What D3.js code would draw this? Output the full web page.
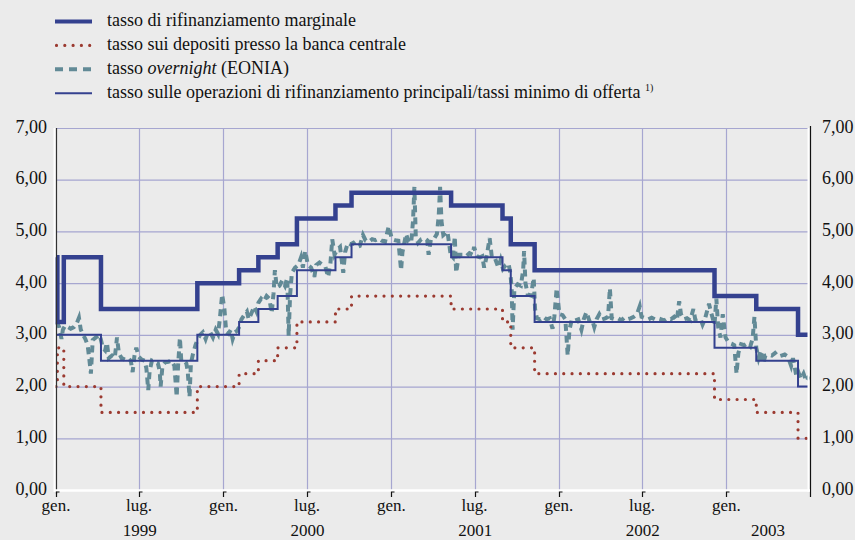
<!DOCTYPE html>
<html>
<head>
<meta charset="utf-8">
<script src="https://cdn.jsdelivr.net/npm/d3@7"></script>
<style>
  body { margin: 0; background: #ebebeb; }
  svg { display: block; }
  text { font-family: "Liberation Serif", "DejaVu Serif", serif; }
</style>
</head>
<body>
<svg id="chart" width="855" height="540"></svg>
<script>
// tassi BCE 1999-2003
const legendLabels = [
  "tasso di rifinanziamento marginale",
  "tasso sui depositi presso la banca centrale",
  "tasso overnight (EONIA)",
  "tasso sulle operazioni di rifinanziamento principali/tassi minimo di offerta"
]
const yTicks = [0, 1, 2, 3, 4, 5, 6, 7]
const monthLabels = ["gen.", "lug."]
const yearLabels = ["1999", "2000", "2001", "2002", "2003"]

// [data, valore] - cambiamenti di livello
const marginalRate = [
  ["1999-01-01", 4.50], ["1999-01-04", 3.25], ["1999-01-18", 4.50], ["1999-04-09", 3.50],
  ["1999-11-05", 4.00], ["2000-02-04", 4.25], ["2000-03-17", 4.50], ["2000-04-28", 4.75],
  ["2000-06-09", 5.25], ["2000-09-01", 5.50], ["2000-10-06", 5.75], ["2001-05-11", 5.50],
  ["2001-08-31", 5.25], ["2001-09-18", 4.75], ["2001-11-09", 4.25], ["2002-12-06", 3.75],
  ["2003-03-07", 3.50], ["2003-06-06", 3.00], ["2003-06-30", 3.00]
]
const depositRate = [
  ["1999-01-01", 2.00], ["1999-01-04", 2.75], ["1999-01-18", 2.00], ["1999-04-09", 1.50],
  ["1999-11-05", 2.00], ["2000-02-04", 2.25], ["2000-03-17", 2.50], ["2000-04-28", 2.75],
  ["2000-06-09", 3.25], ["2000-09-01", 3.50], ["2000-10-06", 3.75], ["2001-05-11", 3.50],
  ["2001-08-31", 3.25], ["2001-09-18", 2.75], ["2001-11-09", 2.25], ["2002-12-06", 1.75],
  ["2003-03-07", 1.50], ["2003-06-06", 1.00], ["2003-06-30", 1.00]
]
const mainRefiRate = [
  ["1999-01-01", 3.00], ["1999-04-09", 2.50], ["1999-11-05", 3.00], ["2000-02-04", 3.25],
  ["2000-03-17", 3.50], ["2000-04-28", 3.75], ["2000-06-09", 4.25], ["2000-09-01", 4.50],
  ["2000-10-06", 4.75], ["2001-05-11", 4.50], ["2001-08-31", 4.25], ["2001-09-18", 3.75],
  ["2001-11-09", 3.25], ["2002-12-06", 2.75], ["2003-03-07", 2.50], ["2003-06-06", 2.00],
  ["2003-06-30", 2.00]
]
const eonia = [
  ["1999-01-01", 3.25], ["1999-01-04", 3.22], ["1999-01-08", 3.15], ["1999-01-13", 2.92], ["1999-01-16", 3.10],
  ["1999-01-21", 3.18], ["1999-01-27", 3.15], ["1999-02-02", 3.12], ["1999-02-09", 3.15], ["1999-02-15", 3.22],
  ["1999-02-20", 3.33], ["1999-02-24", 3.10], ["1999-03-01", 3.00], ["1999-03-06", 2.92], ["1999-03-11", 2.80],
  ["1999-03-15", 2.50], ["1999-03-18", 2.25], ["1999-03-22", 2.90], ["1999-03-29", 2.95], ["1999-04-06", 3.00],
  ["1999-04-09", 2.90], ["1999-04-13", 2.75], ["1999-04-18", 2.70], ["1999-04-22", 2.85], ["1999-04-26", 2.55],
  ["1999-05-03", 2.60], ["1999-05-09", 2.55], ["1999-05-14", 2.95], ["1999-05-18", 2.65], ["1999-05-24", 2.55],
  ["1999-05-31", 2.52], ["1999-06-07", 2.55], ["1999-06-13", 2.50], ["1999-06-17", 2.28], ["1999-06-21", 2.60],
  ["1999-06-25", 2.75], ["1999-06-30", 2.58], ["1999-07-07", 2.52], ["1999-07-13", 2.50], ["1999-07-17", 2.35],
  ["1999-07-21", 1.93], ["1999-07-24", 2.30], ["1999-07-29", 2.50], ["1999-08-05", 2.47], ["1999-08-11", 2.45],
  ["1999-08-15", 2.30], ["1999-08-17", 2.00], ["1999-08-21", 2.40], ["1999-08-27", 2.47], ["1999-09-03", 2.48],
  ["1999-09-10", 2.50], ["1999-09-16", 2.40], ["1999-09-21", 1.80], ["1999-09-24", 2.40], ["1999-09-28", 2.94],
  ["1999-10-01", 2.50], ["1999-10-07", 2.50], ["1999-10-12", 2.45], ["1999-10-15", 2.30], ["1999-10-19", 1.80],
  ["1999-10-22", 2.45], ["1999-10-27", 2.65], ["1999-11-01", 2.80], ["1999-11-05", 2.90], ["1999-11-11", 3.00],
  ["1999-11-17", 3.05], ["1999-11-23", 2.92], ["1999-11-28", 3.05], ["1999-12-03", 3.05], ["1999-12-09", 2.95],
  ["1999-12-15", 3.10], ["1999-12-20", 3.02], ["1999-12-24", 3.30], ["1999-12-29", 3.78], ["2000-01-03", 3.50],
  ["2000-01-07", 3.05], ["2000-01-12", 3.02], ["2000-01-17", 3.10], ["2000-01-21", 2.92], ["2000-01-26", 3.05],
  ["2000-01-31", 3.08], ["2000-02-04", 3.15], ["2000-02-09", 3.30], ["2000-02-15", 3.38], ["2000-02-21", 3.45],
  ["2000-02-25", 3.30], ["2000-03-01", 3.40], ["2000-03-08", 3.55], ["2000-03-13", 3.45], ["2000-03-17", 3.62],
  ["2000-03-23", 3.70], ["2000-03-29", 3.65], ["2000-04-04", 3.75], ["2000-04-10", 3.70], ["2000-04-15", 3.42],
  ["2000-04-19", 3.80], ["2000-04-22", 4.25], ["2000-04-26", 3.92], ["2000-05-02", 3.95], ["2000-05-08", 4.05],
  ["2000-05-14", 3.95], ["2000-05-19", 4.10], ["2000-05-22", 2.98], ["2000-05-25", 3.75], ["2000-05-29", 4.20],
  ["2000-06-05", 4.30], ["2000-06-12", 4.35], ["2000-06-18", 4.50], ["2000-06-22", 4.30], ["2000-06-27", 4.62],
  ["2000-07-03", 4.35], ["2000-07-10", 4.30], ["2000-07-17", 4.12], ["2000-07-21", 4.35], ["2000-07-28", 4.40],
  ["2000-08-04", 4.35], ["2000-08-10", 4.32], ["2000-08-16", 4.12], ["2000-08-21", 4.38], ["2000-08-25", 4.85],
  ["2000-08-30", 4.55], ["2000-09-05", 4.65], ["2000-09-11", 4.70], ["2000-09-18", 4.20], ["2000-09-22", 4.60],
  ["2000-09-28", 4.78], ["2000-10-04", 4.75], ["2000-10-10", 4.78], ["2000-10-17", 4.70], ["2000-10-24", 4.72],
  ["2000-10-31", 4.93], ["2000-11-06", 4.82], ["2000-11-13", 4.80], ["2000-11-20", 4.85], ["2000-11-27", 4.83],
  ["2000-12-04", 4.86], ["2000-12-11", 4.82], ["2000-12-18", 4.80], ["2000-12-26", 5.10], ["2001-01-02", 4.85],
  ["2001-01-09", 4.83], ["2001-01-16", 4.82], ["2001-01-22", 4.25], ["2001-01-25", 4.60], ["2001-02-02", 4.95],
  ["2001-02-07", 4.80], ["2001-02-13", 4.78], ["2001-02-17", 5.20], ["2001-02-20", 5.86], ["2001-02-23", 4.90],
  ["2001-02-28", 4.78], ["2001-03-07", 4.85], ["2001-03-14", 4.87], ["2001-03-20", 4.83], ["2001-03-23", 4.55],
  ["2001-03-28", 4.85], ["2001-04-04", 4.86], ["2001-04-10", 4.95], ["2001-04-14", 5.30], ["2001-04-17", 5.86],
  ["2001-04-20", 5.20], ["2001-04-24", 4.93], ["2001-05-03", 5.00], ["2001-05-10", 4.55], ["2001-05-15", 4.50],
  ["2001-05-19", 4.90], ["2001-05-22", 4.20], ["2001-05-28", 4.55], ["2001-06-05", 4.55], ["2001-06-13", 4.52],
  ["2001-06-20", 4.58], ["2001-06-27", 4.55], ["2001-06-30", 4.70], ["2001-07-06", 4.52], ["2001-07-13", 4.50],
  ["2001-07-18", 4.52], ["2001-07-22", 4.30], ["2001-07-27", 4.50], ["2001-08-03", 4.87], ["2001-08-08", 4.48],
  ["2001-08-15", 4.47], ["2001-08-22", 4.30], ["2001-08-27", 4.45], ["2001-09-01", 4.28], ["2001-09-07", 4.35],
  ["2001-09-13", 4.38], ["2001-09-17", 4.20], ["2001-09-20", 3.90], ["2001-09-22", 3.10], ["2001-09-26", 3.90],
  ["2001-10-03", 3.98], ["2001-10-10", 3.95], ["2001-10-15", 4.25], ["2001-10-17", 4.62], ["2001-10-20", 4.00],
  ["2001-10-25", 3.78], ["2001-11-01", 3.76], ["2001-11-07", 4.10], ["2001-11-10", 3.50], ["2001-11-14", 3.32],
  ["2001-11-21", 3.30], ["2001-11-28", 3.35], ["2001-12-05", 3.30], ["2001-12-12", 3.32], ["2001-12-18", 3.12],
  ["2001-12-22", 3.35], ["2001-12-27", 3.90], ["2002-01-02", 3.40], ["2002-01-09", 3.38], ["2002-01-15", 3.30],
  ["2002-01-20", 2.60], ["2002-01-24", 3.10], ["2002-01-29", 3.30], ["2002-02-05", 3.28], ["2002-02-12", 3.30],
  ["2002-02-19", 3.10], ["2002-02-24", 3.30], ["2002-03-02", 3.44], ["2002-03-08", 3.28], ["2002-03-14", 3.30],
  ["2002-03-19", 3.15], ["2002-03-24", 3.30], ["2002-03-30", 3.40], ["2002-04-05", 3.30], ["2002-04-12", 3.32],
  ["2002-04-18", 3.35], ["2002-04-22", 3.90], ["2002-04-26", 3.32], ["2002-05-03", 3.30], ["2002-05-10", 3.32],
  ["2002-05-17", 3.28], ["2002-05-23", 3.33], ["2002-05-30", 3.30], ["2002-06-06", 3.32], ["2002-06-13", 3.35],
  ["2002-06-20", 3.40], ["2002-06-26", 3.55], ["2002-06-30", 3.35], ["2002-07-08", 3.32], ["2002-07-15", 3.30],
  ["2002-07-22", 3.33], ["2002-07-29", 3.30], ["2002-08-05", 3.32], ["2002-08-12", 3.30], ["2002-08-19", 3.28],
  ["2002-08-26", 3.32], ["2002-09-02", 3.30], ["2002-09-09", 3.35], ["2002-09-15", 3.28], ["2002-09-20", 3.65],
  ["2002-09-24", 3.40], ["2002-09-30", 3.30], ["2002-10-07", 3.32], ["2002-10-14", 3.28], ["2002-10-21", 3.50],
  ["2002-10-25", 3.30], ["2002-11-01", 3.32], ["2002-11-06", 3.30], ["2002-11-10", 3.20], ["2002-11-15", 3.30],
  ["2002-11-24", 3.60], ["2002-11-28", 3.45], ["2002-12-06", 3.20], ["2002-12-10", 3.70], ["2002-12-14", 3.15],
  ["2002-12-19", 2.95], ["2002-12-24", 3.40], ["2002-12-30", 2.95], ["2003-01-06", 2.85], ["2003-01-12", 2.83],
  ["2003-01-18", 2.80], ["2003-01-23", 2.25], ["2003-01-27", 2.65], ["2003-02-02", 2.82], ["2003-02-09", 2.80],
  ["2003-02-16", 2.84], ["2003-02-22", 2.78], ["2003-02-27", 2.92], ["2003-03-03", 3.35], ["2003-03-07", 2.75],
  ["2003-03-12", 2.55], ["2003-03-17", 2.70], ["2003-03-22", 2.45], ["2003-03-27", 2.60], ["2003-04-03", 2.62],
  ["2003-04-10", 2.60], ["2003-04-17", 2.65], ["2003-04-24", 2.58], ["2003-05-01", 2.60], ["2003-05-08", 2.62],
  ["2003-05-15", 2.58], ["2003-05-22", 2.40], ["2003-05-26", 2.55], ["2003-06-02", 2.22], ["2003-06-06", 2.30],
  ["2003-06-12", 2.15], ["2003-06-18", 2.25], ["2003-06-24", 2.10], ["2003-06-30", 2.20]
]

const BLUE = "#34418f"
const RED = "#9b3a30"
const TEAL = "#628a96"
const GRID = "#a6a6d0"
const FONT = "'Liberation Serif', 'DejaVu Serif', serif"

const parse = d3.timeParse("%Y-%m-%d")
const svg = d3.select("#chart")

const x = d3.scaleTime()
  .domain([parse("1999-01-01"), parse("2003-07-01")])
  .range([56, 809.5])
const y = d3.scaleLinear().domain([0, 7]).range([490, 128])

// griglia
const halfYears = d3.timeMonth.every(6).range(parse("1999-01-01"), parse("2003-07-01"))
svg.append("g").selectAll("line").data(yTicks.slice(1)).join("line")
  .attr("x1", 56).attr("x2", 809)
  .attr("y1", d => y(d) + 0.5).attr("y2", d => y(d) + 0.5)
  .attr("stroke", GRID).attr("stroke-width", 1.2)
svg.append("g").selectAll("line").data(halfYears.slice(1)).join("line")
  .attr("x1", d => Math.round(x(d)) + 0.5).attr("x2", d => Math.round(x(d)) + 0.5)
  .attr("y1", 128).attr("y2", 490)
  .attr("stroke", GRID).attr("stroke-width", 1.2)

// serie
const toXY = arr => arr.map(d => [x(parse(d[0])), y(d[1])])
const stepLine = d3.line().curve(d3.curveStepAfter)
const plainLine = d3.line()

svg.append("path").attr("d", plainLine(toXY(eonia)))
  .attr("fill", "none").attr("stroke", TEAL).attr("stroke-width", 4)
  .attr("stroke-dasharray", "7,5")
svg.append("path").attr("d", stepLine(toXY(depositRate)))
  .attr("fill", "none").attr("stroke", RED).attr("stroke-width", 3.2)
  .attr("stroke-linecap", "round").attr("stroke-dasharray", "0,8.3")
svg.append("path").attr("d", stepLine(toXY(mainRefiRate)))
  .attr("fill", "none").attr("stroke", BLUE).attr("stroke-width", 2)
svg.append("path").attr("d", stepLine(toXY(marginalRate)))
  .attr("fill", "none").attr("stroke", BLUE).attr("stroke-width", 4.5)

// assi
const axes = svg.append("g")
axes.append("line").attr("x1", 54.5).attr("x2", 54.5).attr("y1", 128).attr("y2", 492).attr("stroke", "#fff").attr("stroke-width", 2)
axes.append("line").attr("x1", 56.5).attr("x2", 56.5).attr("y1", 128).attr("y2", 494).attr("stroke", "#333").attr("stroke-width", 1.2)
axes.append("line").attr("x1", 808.5).attr("x2", 808.5).attr("y1", 128).attr("y2", 492).attr("stroke", "#fff").attr("stroke-width", 2)
axes.append("line").attr("x1", 810.5).attr("x2", 810.5).attr("y1", 126).attr("y2", 497).attr("stroke", "#111").attr("stroke-width", 1.2)
axes.append("line").attr("x1", 55).attr("x2", 810).attr("y1", 490.5).attr("y2", 490.5).attr("stroke", "#fff").attr("stroke-width", 2.5)
axes.selectAll(".tick").data(halfYears).join("path")
  .attr("d", d => { const px = Math.round(x(d)) + 0.5; return `M${px},497V492H${px + 3}` })
  .attr("fill", "none").attr("stroke", "#111").attr("stroke-width", 1.2)

const fmt = v => d3.format(".2f")(v).replace(".", ",")
svg.append("g").selectAll("text").data(yTicks).join("text")
  .attr("x", 47).attr("y", d => y(d) + 4.5).attr("text-anchor", "end")
  .attr("font-family", FONT).attr("font-size", 18).attr("fill", "#111").text(fmt)
svg.append("g").selectAll("text").data(yTicks).join("text")
  .attr("x", 822).attr("y", d => y(d) + 4.5).attr("text-anchor", "start")
  .attr("font-family", FONT).attr("font-size", 18).attr("fill", "#111").text(fmt)

svg.append("g").selectAll("text").data(halfYears).join("text")
  .attr("x", d => x(d)).attr("y", 511).attr("text-anchor", "middle")
  .attr("font-family", FONT).attr("font-size", 17).attr("fill", "#111")
  .text(d => monthLabels[d.getMonth() === 0 ? 0 : 1])
svg.append("g").selectAll("text").data(yearLabels).join("text")
  .attr("x", d => {
    const start = x(parse(d + "-01-01"))
    const end = Math.min(x(parse((+d + 1) + "-01-01")), 809.5)
    return (start + end) / 2
  })
  .attr("y", 536).attr("text-anchor", "middle")
  .attr("font-family", FONT).attr("font-size", 17).attr("fill", "#111").text(d => d)

// legenda
const legendStyles = [
  { stroke: BLUE, width: 4, dash: null, cap: "butt" },
  { stroke: RED, width: 3.2, dash: "0,8.3", cap: "round" },
  { stroke: TEAL, width: 4, dash: "8,6", cap: "butt" },
  { stroke: BLUE, width: 2, dash: null, cap: "butt" }
]
const legend = svg.append("g")
legendLabels.forEach((label, i) => {
  const ly = 21.5 + i * 23.9
  const s = legendStyles[i]
  legend.append("line")
    .attr("x1", i === 1 ? 56.5 : 55).attr("x2", 92).attr("y1", ly).attr("y2", ly)
    .attr("stroke", s.stroke).attr("stroke-width", s.width)
    .attr("stroke-dasharray", s.dash).attr("stroke-linecap", s.cap)
  const t = legend.append("text").attr("x", 107).attr("y", ly + 4.8)
    .attr("font-family", FONT).attr("font-size", 18).attr("fill", "#111")
  if (i === 2) {
    t.append("tspan").text("tasso ")
    t.append("tspan").attr("font-style", "italic").text("overnight")
    t.append("tspan").text(" (EONIA)")
  } else if (i === 3) {
    t.append("tspan").text(label + " ")
    t.append("tspan").attr("font-size", 10).attr("dy", -7).text("1)")
  } else {
    t.text(label)
  }
})
</script>
</body>
</html>
